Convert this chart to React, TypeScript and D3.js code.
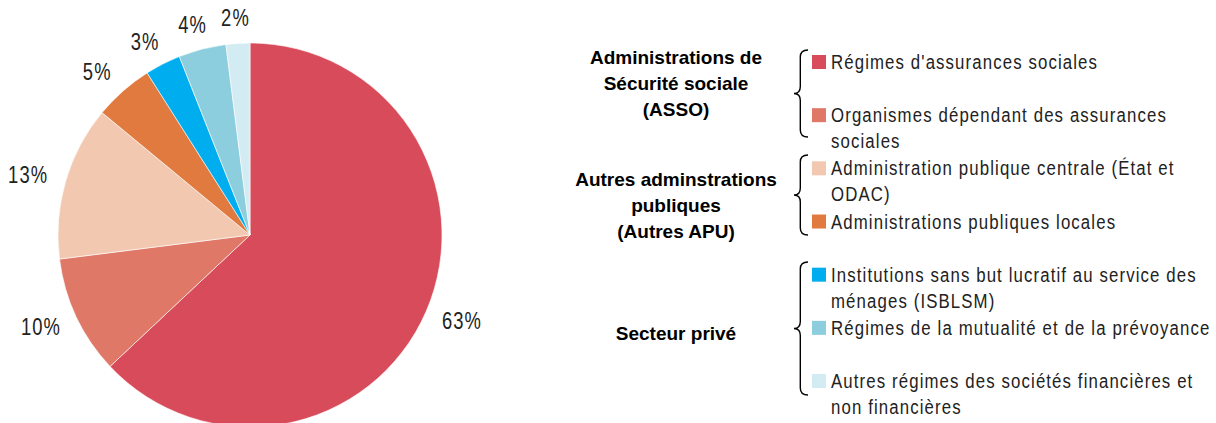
import React, { useEffect } from "react";
import * as d3 from "d3";

const categories = [
  "Régimes d'assurances sociales",
  "Organismes dépendant des assurances sociales",
  "Administration publique centrale (État et ODAC)",
  "Administrations publiques locales",
  "Institutions sans but lucratif au service des ménages (ISBLSM)",
  "Régimes de la mutualité et de la prévoyance",
  "Autres régimes des sociétés financières et non financières",
];
const values = [63, 10, 13, 5, 3, 4, 2];
const colors = ["#D84B5A", "#E07868", "#F2C8B0", "#E07A3E", "#00AEEF", "#8CCDDE", "#D3EBF2"];
const legendLines = [
  ["Régimes d'assurances sociales"],
  ["Organismes dépendant des assurances", "sociales"],
  ["Administration publique centrale (État et", "ODAC)"],
  ["Administrations publiques locales"],
  ["Institutions sans but lucratif au service des", "ménages (ISBLSM)"],
  ["Régimes de la mutualité et de la prévoyance"],
  ["Autres régimes des sociétés financières et", "non financières"],
];
const groupLabels = [
  ["Administrations de", "Sécurité sociale", "(ASSO)"],
  ["Autres adminstrations", "publiques", "(Autres APU)"],
  ["Secteur privé"],
];

const W = 1216;
const H = 423;
const cx = 250;
const cy = 235;
const R = 192;
const FONT = "'Liberation Sans', Arial, sans-serif";
const NARROW = 0.8;

function bracePath(x: number, y0: number, y1: number, w: number) {
  const xm = x + w * 0.45;
  const ym = (y0 + y1) / 2;
  const r = 7;
  return `M${x + w},${y0} Q${xm},${y0} ${xm},${y0 + r} L${xm},${ym - r} Q${xm},${ym} ${x},${ym} Q${xm},${ym} ${xm},${ym + r} L${xm},${y1 - r} Q${xm},${y1} ${x + w},${y1}`;
}

export default function App() {
  useEffect(() => {
    document.body.style.margin = "0";
  }, []);

  const pie = d3.pie<number>().sort(null).value((d) => d)(values);
  const arc = d3.arc<d3.PieArcDatum<number>>().innerRadius(0).outerRadius(R);

  const gap = 12;
  const halfW = 27;
  const halfH = 13;

  const itemBase = (i: number) => 69 + i * 53.17;
  const braceSpans = [
    [50, 137],
    [155, 235],
    [262, 395],
  ];
  const groupBaselines = [64, 186, 340];
  const sqX = 812;
  const sq = 14;
  const textX = 831;

  return (
    <svg width={W} height={H} style={{ display: "block", background: "#fff" }}>
      <g transform={`translate(${cx},${cy})`}>
        {pie.map((p, i) => (
          <path key={i} d={arc(p) || ""} fill={colors[i]} stroke="#fff" strokeWidth={0.6} />
        ))}
        {pie.map((p, i) => {
          const a = (p.startAngle + p.endAngle) / 2;
          const s = Math.sin(a);
          const c = Math.cos(a);
          const txt = `${values[i]}%`;
          const x = s * (R + gap + halfW);
          const y = -c * (R + gap + halfH);
          return (
            <text
              key={i}
              transform={`translate(${x},${y}) scale(${NARROW},1)`}
              dy="0.35em"
              textAnchor="middle"
              fontFamily={FONT}
              fontSize={23}
              letterSpacing={1.4}
              fill="#222"
            >
              {txt}
            </text>
          );
        })}
      </g>
      {groupLabels.map((lines, g) => (
        <g key={g}>
          {lines.map((l, k) => (
            <text
              key={k}
              x={676}
              y={groupBaselines[g] + k * 26}
              textAnchor="middle"
              fontFamily={FONT}
              fontWeight="bold"
              fontSize={19}
              fill="#000"
            >
              {l}
            </text>
          ))}
          <path
            d={bracePath(794, braceSpans[g][0], braceSpans[g][1], 14)}
            fill="none"
            stroke="#000"
            strokeWidth={1.4}
          />
        </g>
      ))}
      {categories.map((c, i) => (
        <g key={i}>
          <rect x={sqX} y={itemBase(i) - sq} width={sq} height={sq} fill={colors[i]} />
          {legendLines[i].map((l, k) => (
            <text
              key={k}
              transform={`translate(${textX},${itemBase(i) + k * 26}) scale(${NARROW},1)`}
              fontFamily={FONT}
              fontSize={21}
              letterSpacing={1.4}
              fill="#222"
            >
              {l}
            </text>
          ))}
        </g>
      ))}
    </svg>
  );
}
